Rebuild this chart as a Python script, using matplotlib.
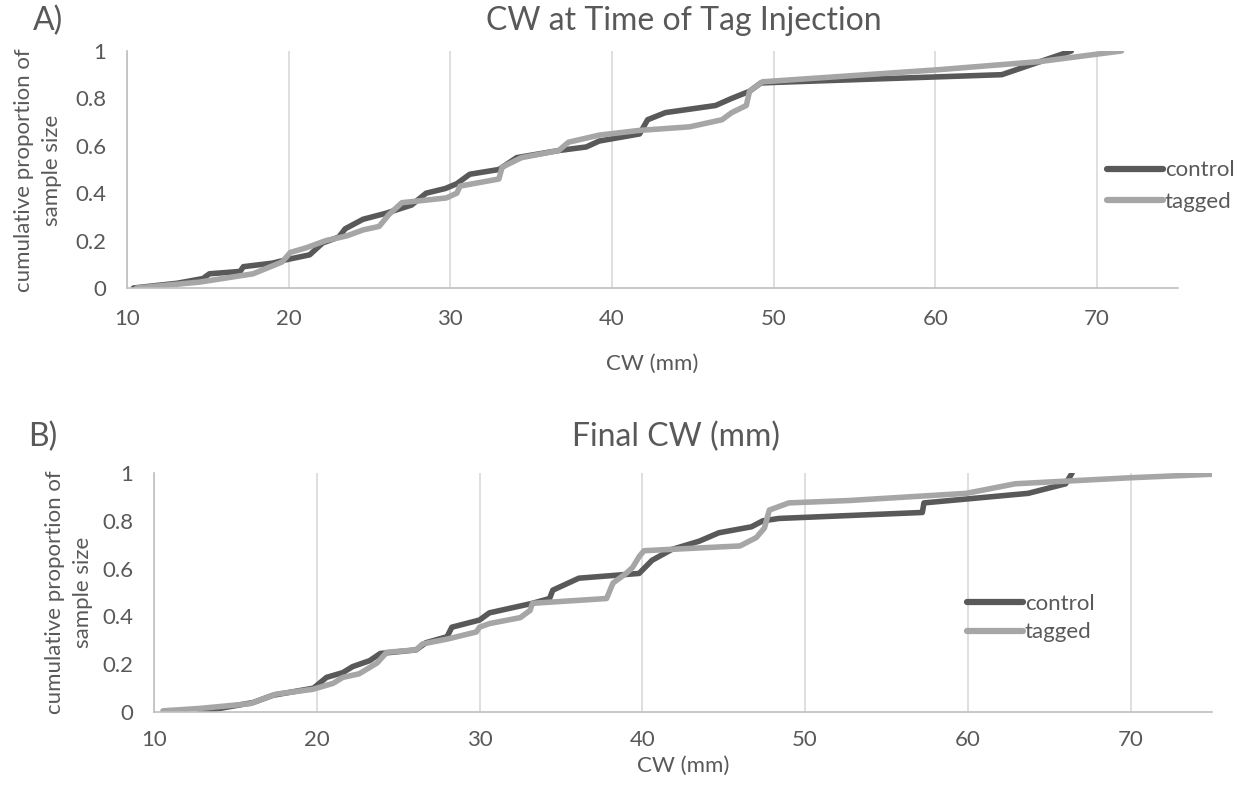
import matplotlib
matplotlib.use('Agg')
import matplotlib.pyplot as plt

plt.rcParams['font.family'] = ['Lato', 'DejaVu Sans']
plt.rcParams['text.color'] = '#595959'

# cumulative proportion of sample size vs carapace width (mm)
# A) CW at time of tag injection
a_ctrl_cw = [10.4, 13.1, 14.7, 15.1, 17.0, 17.2, 19.0, 19.9, 21.3, 22.1, 23.1, 23.5, 24.6,
             26.0, 27.6, 28.5, 29.7, 30.4, 31.2, 33.0, 34.1, 36.7, 38.4, 39.2, 41.7, 42.2,
             43.3, 46.4, 47.4, 48.5, 49.2, 50.3, 64.1, 68.4]
a_ctrl_p = [0.0, 0.02, 0.04, 0.06, 0.07, 0.09, 0.105, 0.12, 0.14, 0.19, 0.215, 0.25, 0.29,
            0.315, 0.35, 0.40, 0.42, 0.44, 0.48, 0.50, 0.55, 0.58, 0.595, 0.62, 0.65, 0.71,
            0.74, 0.77, 0.80, 0.83, 0.865, 0.868, 0.90, 1.0]
a_tag_cw = [10.6, 14.5, 17.8, 19.6, 20.1, 21.1, 22.3, 23.6, 24.6, 25.6, 26.2, 27.0, 29.75,
            30.4, 30.6, 33.0, 33.2, 34.4, 36.7, 37.3, 39.2, 41.7, 44.8, 46.8, 47.4, 48.3,
            48.5, 49.3, 60.0, 66.4, 71.5]
a_tag_p = [0.0, 0.025, 0.06, 0.11, 0.15, 0.17, 0.20, 0.22, 0.245, 0.26, 0.31, 0.36, 0.38,
           0.40, 0.43, 0.46, 0.51, 0.55, 0.58, 0.615, 0.645, 0.665, 0.68, 0.71, 0.74, 0.77,
           0.83, 0.87, 0.92, 0.955, 1.0]

# B) final CW
b_ctrl_cw = [12.8, 16.1, 17.3, 19.8, 20.6, 21.6, 22.2, 23.25, 23.9, 26.1, 26.7, 28.0, 28.3,
             30.0, 30.6, 33.25, 34.3, 34.5, 36.1, 39.8, 40.6, 41.8, 43.5, 44.7, 46.7, 47.4,
             48.4, 57.2, 57.3, 63.7, 66.0, 66.4]
b_ctrl_p = [0.0, 0.04, 0.07, 0.10, 0.145, 0.165, 0.19, 0.215, 0.245, 0.26, 0.29, 0.315, 0.355,
            0.385, 0.415, 0.455, 0.475, 0.51, 0.56, 0.58, 0.635, 0.68, 0.715, 0.75, 0.775, 0.80,
            0.81, 0.835, 0.875, 0.915, 0.955, 1.0]
b_tag_cw = [10.55, 12.8, 15.9, 16.9, 17.5, 19.75, 21.0, 21.6, 22.6, 23.7, 24.3, 26.1, 26.5,
            28.0, 29.8, 30.0, 30.6, 32.5, 33.1, 33.25, 37.8, 38.2, 39.0, 39.4, 39.8, 40.1,
            46.0, 47.0, 47.5, 47.8, 49.0, 52.7, 59.9, 62.9, 69.9, 75.0, 76.0]
b_tag_p = [0.005, 0.015, 0.035, 0.06, 0.075, 0.095, 0.12, 0.145, 0.16, 0.205, 0.25, 0.26, 0.285,
           0.305, 0.335, 0.355, 0.37, 0.395, 0.425, 0.455, 0.475, 0.54, 0.58, 0.605, 0.65, 0.675,
           0.695, 0.73, 0.77, 0.845, 0.875, 0.885, 0.915, 0.955, 0.98, 0.995, 1.0]

x_ticks = [10, 20, 30, 40, 50, 60, 70]
y_ticks = [0, 0.2, 0.4, 0.6, 0.8, 1]
y_labels = ['0', '0.2', '0.4', '0.6', '0.8', '1']

DARK = '#595959'
LIGHT = '#a6a6a6'
TXT = '#595959'
FS = 16

fig = plt.figure(figsize=(12.47, 7.88), dpi=100)
ax_a = fig.add_axes([0.1018, 0.6345, 0.8429, 0.3008])
ax_b = fig.add_axes([0.1235, 0.0964, 0.8485, 0.3033])


def style_axes(ax, xpad):
    ax.set_xlim(10, 75)
    ax.set_ylim(0, 1)
    ax.set_xticks(x_ticks)
    ax.set_yticks(y_ticks)
    ax.set_yticklabels(y_labels)
    ax.grid(axis='x', color='#d9d9d9', linewidth=1.2)
    ax.set_axisbelow(True)
    for side in ['top', 'right']:
        ax.spines[side].set_visible(False)
    ax.spines['bottom'].set_color('#bfbfbf')
    ax.spines['left'].set_color('#bfbfbf')
    ax.spines['bottom'].set_linewidth(1.2)
    ax.spines['left'].set_linewidth(1.2)
    ax.tick_params(length=0, labelsize=FS, labelcolor=TXT)
    ax.tick_params(axis='x', pad=xpad)
    ax.tick_params(axis='y', pad=15)


def draw_lines(ax, cx, cy, tx, ty):
    kw = dict(linewidth=4.0, solid_capstyle='round', solid_joinstyle='round')
    ax.plot(cx, cy, color=DARK, label='control', **kw)
    ax.plot(tx, ty, color=LIGHT, label='tagged', **kw)


def add_legend(ax, x, y, spacing):
    leg = ax.legend(loc='center left', bbox_to_anchor=(x, y), bbox_transform=fig.transFigure,
                    frameon=False, fontsize=FS, handlelength=2.5, handletextpad=0.1,
                    borderpad=0, borderaxespad=0, labelspacing=spacing, labelcolor=TXT)
    for line in leg.get_lines():
        line.set_linewidth(4.5)


style_axes(ax_a, 15)
draw_lines(ax_a, a_ctrl_cw, a_ctrl_p, a_tag_cw, a_tag_p)
ax_a.set_xlabel('CW (mm)', fontsize=FS, color=TXT, labelpad=18)
add_legend(ax_a, 0.8877, 0.764, 0.5)

style_axes(ax_b, 13)
draw_lines(ax_b, b_ctrl_cw, b_ctrl_p, b_tag_cw, b_tag_p)
ax_b.set_xlabel('CW (mm)', fontsize=FS, color=TXT, labelpad=4)
add_legend(ax_b, 0.7755, 0.2157, 0.4)

ylab = 'cumulative proportion of\nsample size'
fig.text(0.0305, 0.7843, ylab, rotation=90, ha='center', va='center', fontsize=FS,
         color=TXT, linespacing=1.45)
fig.text(0.0553, 0.2487, ylab, rotation=90, ha='center', va='center', fontsize=FS,
         color=TXT, linespacing=1.45)

fig.text(0.0265, 0.973, 'A)', fontsize=23, color=TXT, va='center', ha='left')
fig.text(0.5485, 0.973, 'CW at Time of Tag Injection', fontsize=23, color=TXT,
         va='center', ha='center')
fig.text(0.0225, 0.4454, 'B)', fontsize=23, color=TXT, va='center', ha='left')
fig.text(0.542, 0.4454, 'Final CW (mm)', fontsize=23, color=TXT, va='center', ha='center')

fig.savefig('out.png', dpi=100)
